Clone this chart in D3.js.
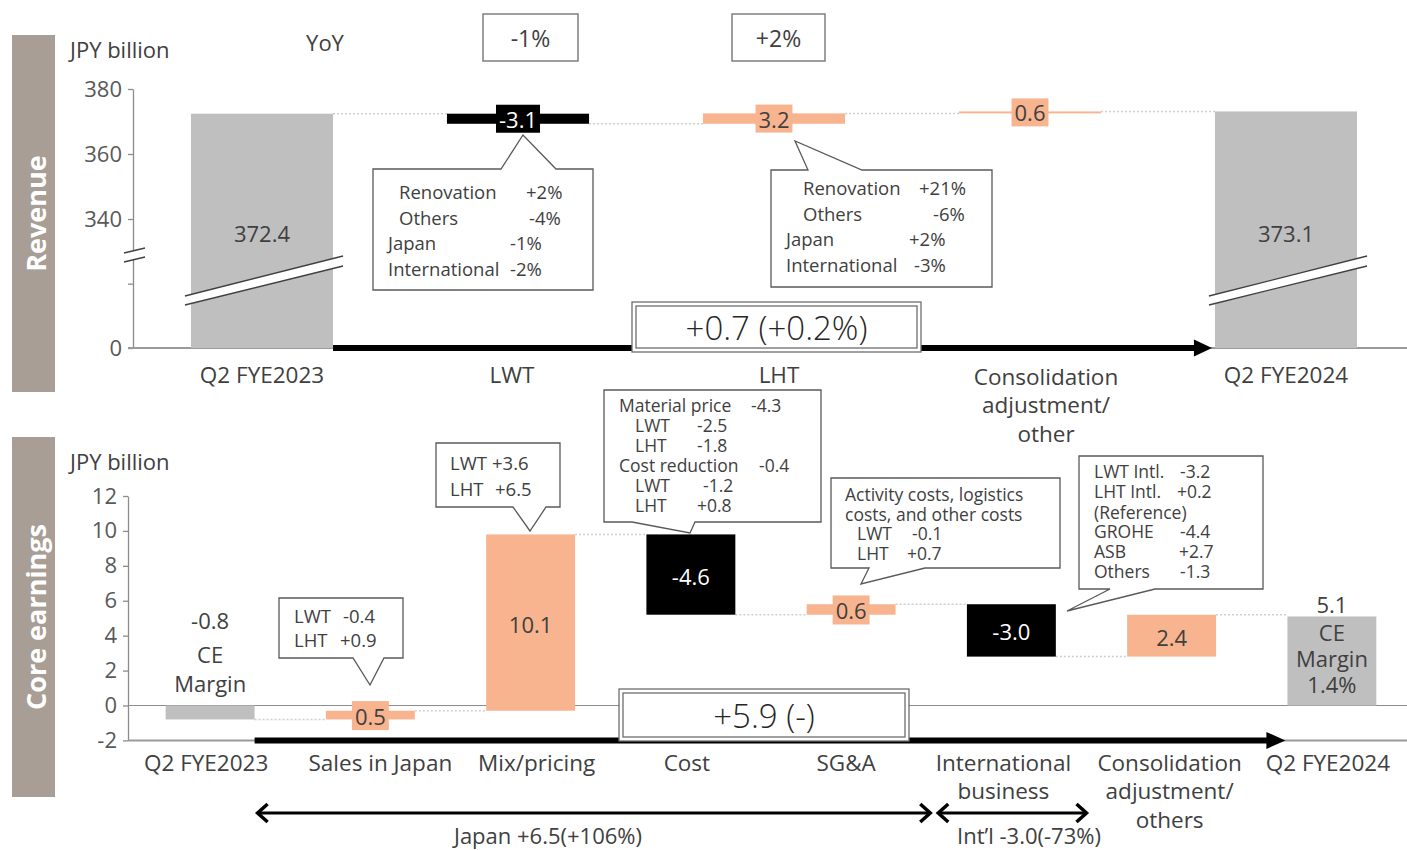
<!DOCTYPE html>
<html><head><meta charset="utf-8">
<script src="https://cdn.jsdelivr.net/npm/d3@7"></script>
<style>body{margin:0;background:#fff;}svg{display:block;}</style>
</head><body>
<script>
// ---------------- DATA ----------------
const revCategories = ["Q2 FYE2023","LWT","LHT","Consolidation adjustment/ other","Q2 FYE2024"];
const revCategoryLines = [["Q2 FYE2023"],["LWT"],["LHT"],["Consolidation","adjustment/","other"],["Q2 FYE2024"]];
const revValues = [372.4, -3.1, 3.2, 0.6, 373.1];
const revIsTotal = [true, false, false, false, true];
const revTicks = [0, 340, 360, 380];
const revYoY = ["-1%", "+2%"];
const revTotalChange = "+0.7 (+0.2%)";

const ceCategories = ["Q2 FYE2023","Sales in Japan","Mix/pricing","Cost","SG&A","International business","Consolidation adjustment/ others","Q2 FYE2024"];
const ceCategoryLines = [["Q2 FYE2023"],["Sales in Japan"],["Mix/pricing"],["Cost"],["SG&A"],["International","business"],["Consolidation","adjustment/","others"],["Q2 FYE2024"]];
const ceValues = [-0.8, 0.5, 10.1, -4.6, 0.6, -3.0, 2.4, 5.1];
const ceIsTotal = [true, false, false, false, false, false, false, true];
const ceTicks = [-2, 0, 2, 4, 6, 8, 10, 12];
const ceTotalChange = "+5.9 (-)";
const ceStartMargin = ["CE", "Margin"];
const ceEndMargin = ["CE", "Margin", "1.4%"];
const segmentLabels = ["Japan +6.5(+106%)", "Int\u2019l -3.0(-73%)"];

const noteRevLWT = [["Renovation","+2%"],["Others","-4%"],["Japan","-1%"],["International","-2%"]];
const noteRevLHT = [["Renovation","+21%"],["Others","-6%"],["Japan","+2%"],["International","-3%"]];
const noteSales = [["LWT","-0.4"],["LHT","+0.9"]];
const noteMix = [["LWT","+3.6"],["LHT","+6.5"]];
const noteCost = [["Material price","-4.3"],["LWT","-2.5"],["LHT","-1.8"],["Cost reduction","-0.4"],["LWT","-1.2"],["LHT","+0.8"]];
const noteSGA = [["Activity costs, logistics",""],["costs, and other costs",""],["LWT","-0.1"],["LHT","+0.7"]];
const noteIntl = [["LWT Intl.","-3.2"],["LHT Intl.","+0.2"],["(Reference)",""],["GROHE","-4.4"],["ASB","+2.7"],["Others","-1.3"]];

// ---------------- STYLE ----------------
const W = 1407, H = 850;
const COL = {total:"#BFBFBF", pos:"#F8B48E", neg:"#000000", text:"#404040", tick:"#595959",
             axis:"#8C8C8C", panel:"#A89E95", conn:"#CFCFCF", box:"#6E6E6E"};
const svg = d3.select("body").append("svg").attr("width", W).attr("height", H)
  .style("font-family", "'Open Sans', 'Noto Sans', sans-serif");

function txt(g, x, y, s, o = {}) {
  return g.append("text").attr("x", x).attr("y", y)
    .attr("dominant-baseline", "central")
    .attr("text-anchor", o.anchor || "middle")
    .attr("font-size", o.size || 22)
    .attr("font-weight", o.weight || 400)
    .attr("fill", o.fill || COL.text)
    .text(s);
}
function waterfall(vals, totals) {
  let run = 0;
  return vals.map((v, i) => {
    if (totals[i]) { run = v; return {i, v, lo: Math.min(0, v), hi: Math.max(0, v), end: v, total: true}; }
    const s = run; run = +(run + v).toFixed(3);
    return {i, v, lo: Math.min(s, run), hi: Math.max(s, run), end: run, total: false};
  });
}
function barColor(d) { return d.total ? COL.total : (d.v >= 0 ? COL.pos : COL.neg); }
function fmt(v) { return v.toFixed(1); }

function panel(y0, y1, label) {
  svg.append("rect").attr("x", 12).attr("y", y0).attr("width", 43).attr("height", y1 - y0).attr("fill", COL.panel);
  svg.append("text").attr("transform", `translate(35,${(y0 + y1) / 2}) rotate(-90)`)
    .attr("text-anchor", "middle").attr("dominant-baseline", "central")
    .attr("font-size", 27).attr("font-weight", 700).attr("fill", "#fff").text(label);
}
function arrow(g, x1, x2, y, sw, hl, hw) {
  g.append("line").attr("x1", x1).attr("x2", x2 - hl + 1).attr("y1", y).attr("y2", y)
    .attr("stroke", "#000").attr("stroke-width", sw);
  g.append("path").attr("d", `M${x2 - hl},${y - hw}L${x2},${y}L${x2 - hl},${y + hw}Z`).attr("fill", "#000");
}
function dblArrow(g, x1, x2, y) {
  g.append("line").attr("x1", x1 + 1).attr("x2", x2 - 1).attr("y1", y).attr("y2", y)
    .attr("stroke", "#000").attr("stroke-width", 3);
  g.append("path").attr("d", `M${x1 + 11},${y - 9}L${x1 + 1},${y}L${x1 + 11},${y + 9}`)
    .attr("fill", "none").attr("stroke", "#000").attr("stroke-width", 3.5);
  g.append("path").attr("d", `M${x2 - 11},${y - 9}L${x2 - 1},${y}L${x2 - 11},${y + 9}`)
    .attr("fill", "none").attr("stroke", "#000").attr("stroke-width", 3.5);
}
function doubleBox(g, x, y, w, h, s) {
  g.append("rect").attr("x", x).attr("y", y).attr("width", w).attr("height", h)
    .attr("fill", "#fff").attr("stroke", COL.box).attr("stroke-width", 1.3);
  g.append("rect").attr("x", x + 4).attr("y", y + 4).attr("width", w - 8).attr("height", h - 8)
    .attr("fill", "none").attr("stroke", COL.box).attr("stroke-width", 1.3);
  txt(g, x + w / 2, y + h / 2, s, {size: 33, weight: 300, fill: "#262626"});
}
function callout(g, r, ptr, lines, lay, size) {
  const {x, y, w, h} = r;
  let p;
  if (ptr.side === "top")
    p = `M${x},${y}L${ptr.a},${y}L${ptr.tip[0]},${ptr.tip[1]}L${ptr.b},${y}L${x + w},${y}L${x + w},${y + h}L${x},${y + h}Z`;
  else
    p = `M${x},${y}L${x + w},${y}L${x + w},${y + h}L${ptr.b},${y + h}L${ptr.tip[0]},${ptr.tip[1]}L${ptr.a},${y + h}L${x},${y + h}Z`;
  g.append("path").attr("d", p).attr("fill", "#fff").attr("stroke", "#595959").attr("stroke-width", 1.3);
  lines.forEach((l, k) => {
    txt(g, x + lay.lx[k], y + lay.y[k], l[0], {anchor: "start", size});
    if (l[1]) txt(g, x + lay.vx[k], y + lay.y[k], l[1], {anchor: "start", size});
  });
}

// ---------------- REVENUE ----------------
panel(35, 392, "Revenue");
const gR = svg.append("g");
const xR = d3.scaleBand().domain(revCategories).range([134, 1414]).paddingInner(0.445).paddingOuter(0.2225);
const bwR = xR.bandwidth();
const yR = d3.scaleLinear().domain([0, 330, 380]).range([348, 251.5, 89]);
const wfR = waterfall(revValues, revIsTotal);

txt(gR, 70, 49, "JPY billion", {anchor: "start"});
txt(gR, 325, 42, "YoY");

// axis
const axR = gR.append("g").attr("transform", "translate(133,0)")
  .call(d3.axisLeft(yR).tickValues(revTicks.concat([220])).tickSize(5).tickSizeOuter(0).tickPadding(6)
    .tickFormat(d => revTicks.includes(d) ? String(d) : ""));
axR.selectAll("path,line").attr("stroke", COL.axis).attr("stroke-width", 1.3);
axR.selectAll("text").attr("font-size", 22).attr("fill", COL.tick).attr("font-family", "'Open Sans', sans-serif");
// axis break
gR.append("path").attr("d", "M124,253L145,248L145,257L124,262Z").attr("fill", "#fff");
gR.append("path").attr("d", "M124,253L145,248M124,262L145,257").attr("stroke", "#404040").attr("stroke-width", 1.3);

// baseline
gR.append("line").attr("x1", 128).attr("x2", W).attr("y1", yR(0)).attr("y2", yR(0)).attr("stroke", "#9A9A9A").attr("stroke-width", 2);

// connectors
wfR.slice(0, -1).forEach((d, i) => {
  gR.append("line").attr("x1", xR(revCategories[i]) + bwR).attr("x2", xR(revCategories[i + 1]))
    .attr("y1", yR(d.end)).attr("y2", yR(d.end))
    .attr("stroke", COL.conn).attr("stroke-width", 1.5).attr("stroke-dasharray", "2,2");
});
// bars
gR.selectAll("rect.bar").data(wfR).join("rect").attr("class", "bar")
  .attr("x", d => xR(revCategories[d.i])).attr("y", d => yR(d.hi))
  .attr("width", bwR).attr("height", d => Math.max(1, yR(d.lo) - yR(d.hi))).attr("fill", barColor);
// break stripes on total bars
wfR.filter(d => d.total).forEach(d => {
  const xl = xR(revCategories[d.i]) - 6, xr = xR(revCategories[d.i]) + bwR + 10, cy = 280;
  gR.append("path").attr("d", `M${xl},${cy + 16}L${xr},${cy - 24}L${xr},${cy - 14}L${xl},${cy + 25}Z`).attr("fill", "#fff");
  gR.append("path").attr("d", `M${xl},${cy + 16}L${xr},${cy - 24}M${xl},${cy + 25}L${xr},${cy - 14}`)
    .attr("stroke", "#404040").attr("stroke-width", 1.3);
  txt(gR, xR(revCategories[d.i]) + bwR / 2, yR(0) - 115, fmt(d.v));
});
// delta labels (boxed)
wfR.filter(d => !d.total).forEach(d => {
  const cx = xR(revCategories[d.i]) + bwR / 2, cy = yR((d.lo + d.hi) / 2);
  const bg = gR.append("rect").attr("fill", barColor(d));
  const t = txt(gR, cx, cy, fmt(d.v), {fill: d.v < 0 ? "#fff" : COL.text});
  const L = t.node().getComputedTextLength();
  bg.attr("x", cx - L / 2 - 3).attr("y", cy - 14).attr("width", L + 6).attr("height", 28);
});

// YoY boxes
[[483, 95], [732, 93]].forEach((b, k) => {
  gR.append("rect").attr("x", b[0]).attr("y", 14).attr("width", b[1]).attr("height", 47)
    .attr("fill", "#fff").attr("stroke", "#7F7F7F").attr("stroke-width", 1.5);
  txt(gR, b[0] + b[1] / 2, 38, revYoY[k], {size: 23});
});

// callouts
callout(gR, {x: 373, y: 169, w: 220, h: 121}, {side: "top", a: 501, tip: [523, 135], b: 556},
  noteRevLWT, {lx: [26, 26, 15, 15], vx: [153, 156, 137, 137], y: [22, 48, 73, 99]}, 18.5);
callout(gR, {x: 771, y: 170, w: 221, h: 117}, {side: "top", a: 808, tip: [795, 141], b: 862},
  noteRevLHT, {lx: [32, 32, 15, 15], vx: [148, 162, 138, 143], y: [17, 43, 68, 94]}, 18.5);

// total arrow + box
arrow(gR, xR(revCategories[0]) + bwR, xR(revCategories[4]) - 3, yR(0), 6, 18, 8.5);
doubleBox(gR, 632, 302, 289, 50, revTotalChange);

// category labels
const revDx = [0, -6, 5, 16, 0];
revCategoryLines.forEach((ls, i) => {
  ls.forEach((s, k) => txt(gR, xR(revCategories[i]) + bwR / 2 + revDx[i], 374 + (ls.length > 1 ? 2 : 0) + k * 28.5, s, {size: 22.5}));
});

// ---------------- CORE EARNINGS ----------------
panel(437, 797, "Core earnings");
const gC = svg.append("g");
const xC = d3.scaleBand().domain(ceCategories).range([130, 1412]).paddingInner(0.445).paddingOuter(0.2225);
const bwC = xC.bandwidth();
const yC = d3.scaleLinear().domain([-2, 12]).range([740.4, 496]);
const wfC = waterfall(ceValues, ceIsTotal);

txt(gC, 70, 461, "JPY billion", {anchor: "start"});

const axC = gC.append("g").attr("transform", "translate(128,0)")
  .call(d3.axisLeft(yC).tickValues(ceTicks).tickSize(5).tickSizeOuter(0).tickPadding(6).tickFormat(d => String(d)));
axC.selectAll("path,line").attr("stroke", COL.axis).attr("stroke-width", 1.3);
axC.selectAll("text").attr("font-size", 22).attr("fill", COL.tick).attr("font-family", "'Open Sans', sans-serif");

gC.append("line").attr("x1", 128).attr("x2", W).attr("y1", yC(0)).attr("y2", yC(0)).attr("stroke", "#8C8C8C").attr("stroke-width", 1.2);
gC.append("line").attr("x1", 128).attr("x2", W).attr("y1", yC(-2)).attr("y2", yC(-2)).attr("stroke", "#9A9A9A").attr("stroke-width", 2);

wfC.slice(0, -1).forEach((d, i) => {
  gC.append("line").attr("x1", xC(ceCategories[i]) + bwC).attr("x2", xC(ceCategories[i + 1]))
    .attr("y1", yC(d.end)).attr("y2", yC(d.end))
    .attr("stroke", COL.conn).attr("stroke-width", 1.5).attr("stroke-dasharray", "2,2");
});
gC.selectAll("rect.bar").data(wfC).join("rect").attr("class", "bar")
  .attr("x", d => xC(ceCategories[d.i])).attr("y", d => yC(d.hi))
  .attr("width", bwC).attr("height", d => Math.max(1, yC(d.lo) - yC(d.hi))).attr("fill", barColor);

// delta labels
wfC.filter(d => !d.total).forEach(d => {
  const cx = xC(ceCategories[d.i]) + bwC / 2, cy = yC((d.lo + d.hi) / 2);
  const thin = (yC(d.lo) - yC(d.hi)) < 28;
  const bg = thin ? gC.append("rect").attr("fill", barColor(d)) : null;
  const t = txt(gC, cx, cy + 1, fmt(d.v), {fill: d.v < 0 ? "#fff" : COL.text});
  if (bg) {
    const L = t.node().getComputedTextLength();
    bg.attr("x", cx - L / 2 - 3).attr("y", cy - 14).attr("width", L + 6).attr("height", 29);
  }
});
// start total labels
{
  const d = wfC[0], cx = xC(ceCategories[0]) + bwC / 2;
  txt(gC, cx, yC(0) - 85, fmt(d.v));
  ceStartMargin.forEach((s, k) => txt(gC, cx, yC(0) - 51 + k * 29, s));
}
// end total labels
{
  const d = wfC[wfC.length - 1], cx = xC(ceCategories[7]) + bwC / 2;
  txt(gC, cx, yC(d.v) - 12, fmt(d.v));
  ceEndMargin.forEach((s, k) => txt(gC, cx, yC(d.v) + 16 + k * 26, s));
}

// callouts
callout(gC, {x: 279, y: 598, w: 124, h: 60}, {side: "bottom", a: 353, tip: [370, 685], b: 384},
  noteSales, {lx: [15, 15], vx: [64, 61], y: [17, 41]}, 18.5);
callout(gC, {x: 436, y: 443, w: 124, h: 64}, {side: "bottom", a: 513, tip: [530, 531], b: 546},
  noteMix, {lx: [14, 14], vx: [56, 59], y: [19, 45]}, 18.5);
callout(gC, {x: 604, y: 390, w: 217, h: 132}, {side: "bottom", a: 632, tip: [690, 533], b: 695},
  noteCost, {lx: [15, 31, 31, 15, 31, 31], vx: [147, 93, 93, 155, 99, 93], y: [15, 35, 55, 75, 95, 115]}, 17.5);
callout(gC, {x: 831, y: 478, w: 229, h: 90}, {side: "bottom", a: 869, tip: [861, 584], b: 925},
  noteSGA, {lx: [14, 14, 26, 26], vx: [0, 0, 81, 76], y: [16, 36, 55, 75]}, 17.5);
callout(gC, {x: 1079, y: 456, w: 184, h: 133}, {side: "bottom", a: 1110, tip: [1067, 611], b: 1155},
  noteIntl, {lx: [15, 15, 15, 15, 15, 15], vx: [101, 98, 0, 101, 100, 101], y: [15, 35, 56, 75, 95, 115]}, 17.5);

// total arrow + box
arrow(gC, xC(ceCategories[0]) + bwC, xC(ceCategories[7]) - 2, yC(-2), 6, 19, 8.5);
doubleBox(gC, 619, 689, 290, 52, ceTotalChange);

// category labels
const ceDx = [-4, 10, 6, -4, -5, -8, -2, -4];
ceCategoryLines.forEach((ls, i) => {
  ls.forEach((s, k) => txt(gC, xC(ceCategories[i]) + bwC / 2 + ceDx[i], yC(-2) + 22 + k * 28.5, s, {size: 22.5}));
});

// segment arrows
const jpEnd = (xC(ceCategories[4]) + bwC + xC(ceCategories[5])) / 2;
const intlEnd = (xC(ceCategories[5]) + bwC + xC(ceCategories[6])) / 2;
dblArrow(gC, xC(ceCategories[0]) + bwC + 2, jpEnd, 813);
dblArrow(gC, jpEnd + 6, intlEnd - 4, 813);
txt(gC, 548, 835, segmentLabels[0], {size: 22});
txt(gC, 1029, 835, segmentLabels[1], {size: 22});
</script>
</body></html>
